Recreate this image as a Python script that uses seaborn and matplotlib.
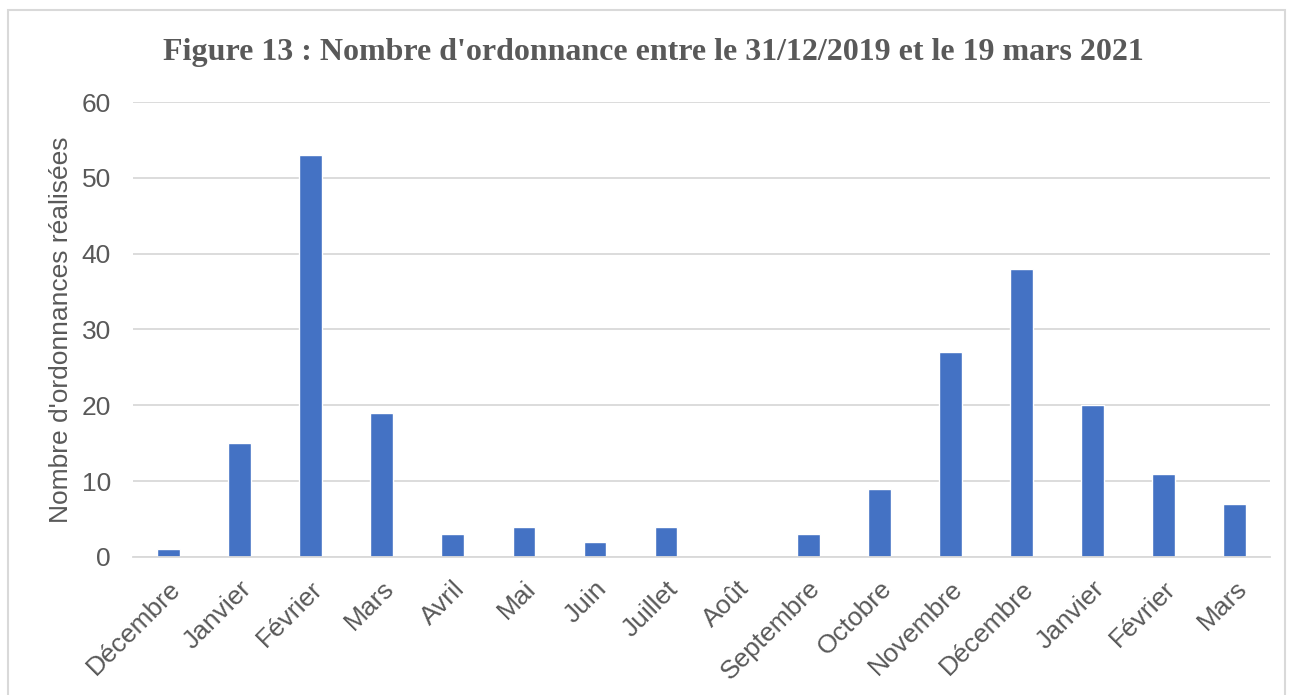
import matplotlib
matplotlib.use('Agg')
import matplotlib.pyplot as plt
import seaborn as sns
import pandas as pd
from matplotlib.patches import Rectangle

# données
mois = ['Décembre', 'Janvier', 'Février', 'Mars', 'Avril', 'Mai', 'Juin', 'Juillet',
        'Août', 'Septembre', 'Octobre', 'Novembre', 'Décembre', 'Janvier', 'Février', 'Mars']
annees = [2019, 2020, 2020, 2020, 2020, 2020, 2020, 2020,
          2020, 2020, 2020, 2020, 2020, 2021, 2021, 2021]
nb_ordonnances = [1, 15, 53, 19, 3, 4, 2, 4, 0, 3, 9, 27, 38, 20, 11, 7]

df = pd.DataFrame({'cle': [f'{m} {a}' for m, a in zip(mois, annees)],
                   'valeur': nb_ordonnances})

sns.set_style('white')
plt.rcParams['font.family'] = ['Liberation Sans', 'DejaVu Sans']

gris = '#595959'
fig = plt.figure(figsize=(12.89, 6.95), dpi=100)
ax = fig.add_axes([0.1032, 0.1986, 0.8821, 0.6546])

sns.barplot(data=df, x='cle', y='valeur', color='#4472C4', width=0.32,
            saturation=1, ax=ax)

ax.set_ylim(0, 60)
ax.set_yticks(range(0, 61, 10))
ax.set_xlim(-0.5, len(mois) - 0.5)
ax.yaxis.grid(True, color='#D9D9D9', linewidth=1.3)
ax.set_axisbelow(True)
for s in ['top', 'right', 'left']:
    ax.spines[s].set_visible(False)
ax.spines['bottom'].set_color('#D9D9D9')
ax.spines['bottom'].set_linewidth(1.3)

ax.set_xticks(range(len(mois)))
ax.set_xticklabels(mois, rotation=45, ha='right', rotation_mode='anchor')
ax.tick_params(axis='both', length=0, labelsize=19, labelcolor=gris)
ax.tick_params(axis='x', pad=14)
ax.tick_params(axis='y', pad=16)
ax.set_xlabel('')
ax.set_ylabel("Nombre d'ordonnances réalisées", fontsize=19, color=gris, labelpad=6)

fig.text(0.507, 0.925, "Figure 13 : Nombre d'ordonnance entre le 31/12/2019 et le 19 mars 2021",
         ha='center', va='center', fontsize=23, fontweight='bold', color=gris,
         family=['Liberation Serif', 'DejaVu Serif'])

# cadre gris clair autour du graphique
fig.patches.append(Rectangle((8 / 1289, -0.05), 1 - 12 / 1289, 1.05 - 10 / 695,
                             transform=fig.transFigure, fill=False,
                             edgecolor='#D9D9D9', linewidth=1.5))

fig.savefig('out.png', dpi=100)
